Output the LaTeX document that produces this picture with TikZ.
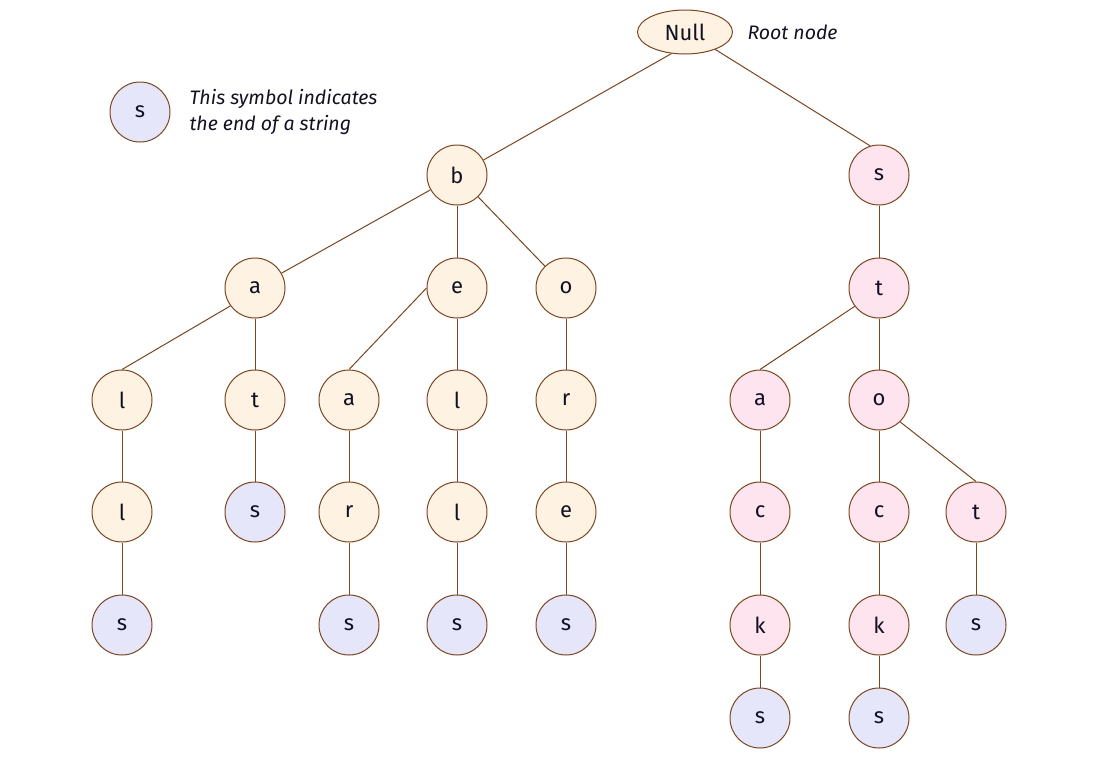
\documentclass[tikz,border=0pt]{standalone}
\usepackage{fontspec}
\setmainfont{Fira Sans}
\usetikzlibrary{shapes.geometric}
\definecolor{edgec}{HTML}{7B4520}
\definecolor{cream}{HTML}{FEF3E2}
\definecolor{pinkc}{HTML}{FDE4EE}
\definecolor{lav}{HTML}{E6E6FA}
\definecolor{txt}{HTML}{111122}
\tikzset{
  x=1pt, y=-1pt,
  nd/.style={circle, draw=edgec, line width=1pt, minimum size=60pt, inner sep=0pt, font=\fontsize{22}{26}\selectfont, text=txt},
  cr/.style={nd, fill=cream},
  pk/.style={nd, fill=pinkc},
  lv/.style={nd, fill=lav},
  ed/.style={draw=edgec, line width=1pt},
  note/.style={font=\fontsize{19.5}{26}\selectfont\itshape, text=txt, anchor=west, align=left}
}
\begin{document}
\begin{tikzpicture}
\useasboundingbox (0,0) rectangle (1100,758);
% root
\node[ellipse, draw=edgec, line width=1pt, fill=cream, minimum width=95pt, minimum height=44pt, inner sep=0pt, font=\fontsize{22}{26}\selectfont, text=txt] (null) at (685,32) {Null};
\node[note] (rootlbl) at (744,32) {Root node};
% legend
\node[lv] (leg) at (140,112) {s};
\node[note] (legtxt) at (186,112) {This symbol indicates\\the end of a string};
% level 1
\node[cr] (b) at (457,175) {b};
\node[pk] (s1) at (879,175) {s};
% level 2
\node[cr] (ba) at (255,288) {a};
\node[cr] (be) at (457,288) {e};
\node[cr] (bo) at (566,288) {o};
\node[pk] (st) at (879,288) {t};
% level 3
\node[cr] (bal) at (122,400) {l};
\node[cr] (bat) at (255,400) {t};
\node[cr] (bea) at (349,400) {a};
\node[cr] (bel) at (457,400) {l};
\node[cr] (bor) at (566,400) {r};
\node[pk] (sta) at (760,400) {a};
\node[pk] (sto) at (879,400) {o};
% level 4
\node[cr] (ball) at (122,512) {l};
\node[lv] (bats) at (255,512) {s};
\node[cr] (bear) at (349,512) {r};
\node[cr] (bell) at (457,512) {l};
\node[cr] (bore) at (566,512) {e};
\node[pk] (stac) at (760,512) {c};
\node[pk] (stoc) at (879,512) {c};
\node[pk] (stot) at (976,512) {t};
% level 5
\node[lv] (balls) at (122,625) {s};
\node[lv] (bears) at (349,625) {s};
\node[lv] (bells) at (457,625) {s};
\node[lv] (bores) at (566,625) {s};
\node[pk] (stack) at (760,625) {k};
\node[pk] (stock) at (879,625) {k};
\node[lv] (stots) at (976,625) {s};
% level 6
\node[lv] (stacks) at (760,718) {s};
\node[lv] (stocks) at (879,718) {s};
% edges
\draw[ed] (null.-122) -- (b);
\draw[ed] (null.-30) -- (s1.107);
\draw[ed] (b) -- (ba);
\draw[ed] (b) -- (be);
\draw[ed] (b) -- (bo);
\draw[ed] (s1) -- (st);
\draw[ed] (ba.216) -- (bal.north);
\draw[ed] (ba) -- (bat);
\draw[ed] (be.west) -- (bea.north);
\draw[ed] (be) -- (bel);
\draw[ed] (bo) -- (bor);
\draw[ed] (st.217) -- (sta.north);
\draw[ed] (st) -- (sto);
\draw[ed] (bal) -- (ball);
\draw[ed] (bat) -- (bats);
\draw[ed] (bea) -- (bear);
\draw[ed] (bel) -- (bell);
\draw[ed] (bor) -- (bore);
\draw[ed] (sta) -- (stac);
\draw[ed] (sto) -- (stoc);
\draw[ed] (sto.-46) -- (stot.north);
\draw[ed] (ball) -- (balls);
\draw[ed] (bear) -- (bears);
\draw[ed] (bell) -- (bells);
\draw[ed] (bore) -- (bores);
\draw[ed] (stac) -- (stack);
\draw[ed] (stoc) -- (stock);
\draw[ed] (stot) -- (stots);
\draw[ed] (stack) -- (stacks);
\draw[ed] (stock) -- (stocks);
\end{tikzpicture}
\end{document}
